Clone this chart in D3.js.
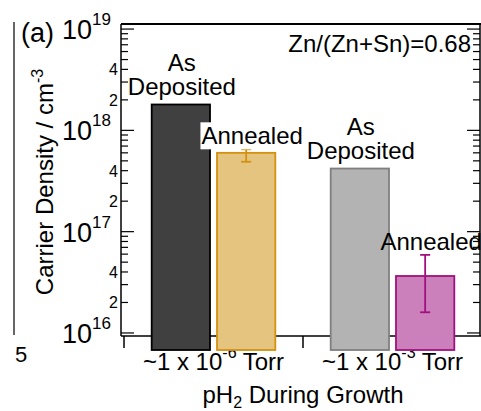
<!DOCTYPE html>
<html>
<head>
<meta charset="utf-8">
<script src="https://cdn.jsdelivr.net/npm/d3@7"></script>
<style>
  body { margin: 0; background: #fff; }
  text { font-family: "Liberation Sans", Arial, Helvetica, sans-serif; fill: #000; }
</style>
</head>
<body>
<script>
// data
var categories = ['low', 'high'];
var catBase = ['~1 x 10', '~1 x 10'];
var catExp = ['-6', '-3'];
var series = ['As Deposited', 'Annealed'];
var asDeposited = [1.8e18, 4.2e17];
var annealed = [6.0e17, 3.65e16];
var annealedLow = [4.9e17, 1.6e16];
var annealedHigh = [6.5e17, 5.9e16];
var majorTicks = [1e16, 1e17, 1e18, 1e19];
var labelledMinor = [2, 4];

var fills = { 'As Deposited': ['#404040', '#b3b3b3'], 'Annealed': ['#e5c47f', '#cc80bb'] };
var strokes = { 'As Deposited': ['#000000', '#7f7f7f'], 'Annealed': ['#d4900f', '#a0107f'] };

var W = 481, H = 411;
var plotL = 121, plotR = 480, plotT = 24, plotB = 336;
var fs = 24;

var svg = d3.select('body').append('svg')
    .attr('width', W)
    .attr('height', H);

var y = d3.scaleLog()
    .domain([Math.pow(10, 15.97), Math.pow(10, 19.05)])
    .range([plotB, plotT]);

var x0 = d3.scaleBand()
    .domain(categories)
    .range([124, 482])
    .padding(0);

var x1 = d3.scaleBand()
    .domain(series)
    .range([0, x0.bandwidth()])
    .paddingInner(0.107)
    .paddingOuter(0.424);

var barBase = plotB + 14;

// neighbouring panel remnants
svg.append('line')
    .attr('x1', 14).attr('x2', 14)
    .attr('y1', 22).attr('y2', 335)
    .attr('stroke', '#000').attr('stroke-width', 1.2);
svg.append('text')
    .attr('x', 15).attr('y', 362)
    .attr('font-size', 22)
    .text('5');

// category labels (drawn first, bars overlap the exponents)
categories.forEach(function(c, i) {
    var t = svg.append('text')
        .attr('x', x0(c) + x0.bandwidth() / 2)
        .attr('y', 370)
        .attr('text-anchor', 'middle')
        .attr('font-size', fs);
    t.append('tspan').text(catBase[i]);
    t.append('tspan').attr('dy', -12).attr('font-size', 16).text(catExp[i]);
    t.append('tspan').attr('dy', 12).text(' Torr');
});

// frame
svg.append('line')
    .attr('x1', plotL).attr('x2', W)
    .attr('y1', plotT).attr('y2', plotT)
    .attr('stroke', '#000').attr('stroke-width', 2);
svg.append('line')
    .attr('x1', plotL).attr('x2', plotL)
    .attr('y1', plotT).attr('y2', plotB)
    .attr('stroke', '#000').attr('stroke-width', 1.5);
svg.append('line')
    .attr('x1', plotR).attr('x2', plotR)
    .attr('y1', plotT).attr('y2', plotB)
    .attr('stroke', '#000').attr('stroke-width', 1.5);
svg.append('line')
    .attr('x1', plotL).attr('x2', W)
    .attr('y1', plotB).attr('y2', plotB)
    .attr('stroke', '#000').attr('stroke-width', 1.5);

// x ticks between groups
categories.forEach(function(c) {
    svg.append('line')
        .attr('x1', x0(c)).attr('x2', x0(c))
        .attr('y1', plotB).attr('y2', plotB + 12)
        .attr('stroke', '#000').attr('stroke-width', 1.5);
});

// y ticks, left and right
var allTicks = [];
majorTicks.forEach(function(m, k) {
    allTicks.push({ v: m, major: true });
    if (k < majorTicks.length - 1) {
        for (var j = 2; j <= 9; j++) allTicks.push({ v: m * j, major: false, j: j });
    }
});
allTicks.forEach(function(t) {
    var len = t.major ? 13 : 7;
    svg.append('line')
        .attr('x1', plotL).attr('x2', plotL + len)
        .attr('y1', y(t.v)).attr('y2', y(t.v))
        .attr('stroke', '#000').attr('stroke-width', 1.2);
    svg.append('line')
        .attr('x1', plotR).attr('x2', plotR - len)
        .attr('y1', y(t.v)).attr('y2', y(t.v))
        .attr('stroke', '#000').attr('stroke-width', 1.2);
    if (!t.major && labelledMinor.indexOf(t.j) >= 0) {
        svg.append('text')
            .attr('x', plotL - 3)
            .attr('y', y(t.v) + 6)
            .attr('text-anchor', 'end')
            .attr('font-size', 16)
            .text(t.j);
    }
});
majorTicks.forEach(function(m) {
    var t = svg.append('text')
        .attr('x', 111)
        .attr('y', y(m) + 10)
        .attr('text-anchor', 'end')
        .attr('font-size', 27);
    t.append('tspan').text('10');
    t.append('tspan').attr('dy', -14).attr('font-size', 17).text(Math.round(Math.log10(m)));
});

// bars
var rows = [];
categories.forEach(function(c, i) {
    rows.push({ cat: c, i: i, s: 'As Deposited', v: asDeposited[i] });
    rows.push({ cat: c, i: i, s: 'Annealed', v: annealed[i], lo: annealedLow[i], hi: annealedHigh[i] });
});

svg.selectAll('rect.bar')
    .data(rows)
    .enter().append('rect')
    .attr('class', 'bar')
    .attr('x', function(d) { return x0(d.cat) + x1(d.s); })
    .attr('width', x1.bandwidth())
    .attr('y', function(d) { return y(d.v); })
    .attr('height', function(d) { return barBase - y(d.v); })
    .attr('fill', function(d) { return fills[d.s][d.i]; })
    .attr('stroke', function(d) { return strokes[d.s][d.i]; })
    .attr('stroke-width', 1.8);

// error bars
rows.filter(function(d) { return d.hi; }).forEach(function(d) {
    var cx = x0(d.cat) + x1(d.s) + x1.bandwidth() / 2;
    var col = strokes[d.s][d.i];
    svg.append('line')
        .attr('x1', cx).attr('x2', cx)
        .attr('y1', y(d.hi)).attr('y2', y(d.lo))
        .attr('stroke', col).attr('stroke-width', 1.8);
    [d.hi, d.lo].forEach(function(e) {
        svg.append('line')
            .attr('x1', cx - 5).attr('x2', cx + 5)
            .attr('y1', y(e)).attr('y2', y(e))
            .attr('stroke', col).attr('stroke-width', 1.8);
    });
});

// bar annotations
rows.forEach(function(d) {
    var cx = x0(d.cat) + x1(d.s) + x1.bandwidth() / 2;
    if (d.s === 'As Deposited') {
        var b = y(d.v) - 10;
        svg.append('text').attr('x', cx + 1).attr('y', b - 24)
            .attr('text-anchor', 'middle').attr('font-size', fs).text('As');
        svg.append('text').attr('x', cx + 1).attr('y', b)
            .attr('text-anchor', 'middle').attr('font-size', fs).text('Deposited');
    } else {
        var b2 = Math.min(y(d.v), y(d.hi)) - 5;
        var g = svg.append('g');
        var bg = g.append('rect').attr('fill', '#fff');
        var tx = g.append('text').attr('x', cx + 6).attr('y', b2)
            .attr('text-anchor', 'middle').attr('font-size', fs).text('Annealed');
        if (d.i === 0) {
            var bb = tx.node().getBBox();
            bg.attr('x', bb.x - 1).attr('y', bb.y).attr('width', bb.width + 2).attr('height', bb.height);
        }
    }
});

// composition note
svg.append('text')
    .attr('x', 471).attr('y', 52)
    .attr('text-anchor', 'end')
    .attr('font-size', fs)
    .text('Zn/(Zn+Sn)=0.68');

// panel letter
svg.append('text')
    .attr('x', 21).attr('y', 42)
    .attr('font-size', 27)
    .text('(a)');

// axis titles
var yt = svg.append('text')
    .attr('transform', 'translate(53,182) rotate(-90)')
    .attr('text-anchor', 'middle')
    .attr('font-size', fs);
yt.append('tspan').text('Carrier Density / cm');
yt.append('tspan').attr('dy', -10).attr('font-size', 16).text('-3');

var xt = svg.append('text')
    .attr('x', 303).attr('y', 403)
    .attr('text-anchor', 'middle')
    .attr('font-size', fs);
xt.append('tspan').text('pH');
xt.append('tspan').attr('dy', 5).attr('font-size', 16).text('2');
xt.append('tspan').attr('dy', -5).text(' During Growth');
</script>
</body>
</html>
